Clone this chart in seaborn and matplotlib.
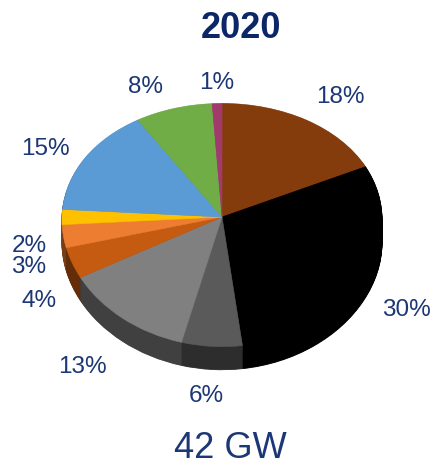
import numpy as np
import matplotlib
matplotlib.use("Agg")
import matplotlib.pyplot as plt
from matplotlib.transforms import Transform, Affine2D
import seaborn as sns

# ---- data ----
shares = [18, 30, 6, 13, 4, 3, 2, 15, 8, 1]
pct_labels = ["18%", "30%", "6%", "13%", "4%", "3%", "2%", "15%", "8%", "1%"]
slice_colors = ["#843C0C", "#000000", "#5A5A5A", "#808080", "#C55A11",
                "#ED7D31", "#FFC000", "#5B9BD5", "#70AD47", "#A33A6E"]
title_text = "2020"
total_text = "42 GW"

# ---- layout / style (not data) ----
label_radius = [1.232, 1.386, 1.473, 1.513, 1.336, 1.274, 1.229, 1.234, 1.17, 1.106]
label_shift = [-4.4, -4.7, -0.3, 2.5, 9.5, 9.8, 11.2, 3.7, 6.0, -0.2]
W, H = 436, 466
cx_px, cy_px, rx_px, ry_px = 222, 217, 160, 121.6
depth = 0.19
side_factor = 0.5
persp_k = 0.066
text_color = '#1C3775'


class Perspective(Transform):
    """Slight perspective: the far (top) half of the disc is a bit flatter."""
    input_dims = 2
    output_dims = 2
    is_separable = False
    has_inverse = False

    def __init__(self, k):
        super().__init__()
        self.k = k

    def transform_non_affine(self, values):
        v = np.asarray(values, dtype=float).copy()
        y = v[:, 1]
        v[:, 0] = v[:, 0] * (1 - 0.02 * y)
        v[:, 1] = y - self.k * y * y
        return v


sns.set_theme(style="white")
plt.rcParams['font.family'] = ['Liberation Sans', 'DejaVu Sans']

palette = sns.color_palette(slice_colors)
side_palette = [tuple(c * side_factor for c in col) for col in palette]

fig = plt.figure(figsize=(W / 100, H / 100), dpi=100)
ax = fig.add_axes([0, 0, 1, 1])
persp = Perspective(persp_k)

# side (depth) layers
n_layers = 30
for k in range(n_layers, 0, -1):
    off = depth * k / n_layers
    wedges, _ = ax.pie(shares, colors=side_palette, startangle=90, counterclock=False,
                       radius=1.0, frame=True, wedgeprops=dict(linewidth=0.6))
    tr = persp + Affine2D().translate(0, -off) + ax.transData
    for w, c in zip(wedges, side_palette):
        w.set_edgecolor(c)
        w.set_transform(tr)

# top face
wedges, _ = ax.pie(shares, colors=palette, startangle=90, counterclock=False,
                   radius=1.0, frame=True, wedgeprops=dict(linewidth=0.4))
for w, c in zip(wedges, palette):
    w.set_edgecolor(c)
    w.set_transform(persp + ax.transData)

ax.set_aspect('auto')
ax.set_xlim(-cx_px / rx_px, (W - cx_px) / rx_px)
ax.set_ylim((cy_px - H) / ry_px, cy_px / ry_px)
ax.axis('off')

# percentage labels
for w, lab, r, sh in zip(wedges, pct_labels, label_radius, label_shift):
    mid = np.deg2rad((w.theta1 + w.theta2) / 2 + sh)
    ax.text(r * np.cos(mid), r * np.sin(mid), lab, ha='center', va='center',
            fontsize=17.5, color=text_color)

fig.text(241 / W, 1 - 29 / H, title_text, ha='center', va='center',
         fontsize=26, fontweight='bold', color='#0B2767')
fig.text(230 / W, 1 - 449 / H, total_text, ha='center', va='center',
         fontsize=26, color=text_color)

fig.savefig("out.png", dpi=100, facecolor='white')
